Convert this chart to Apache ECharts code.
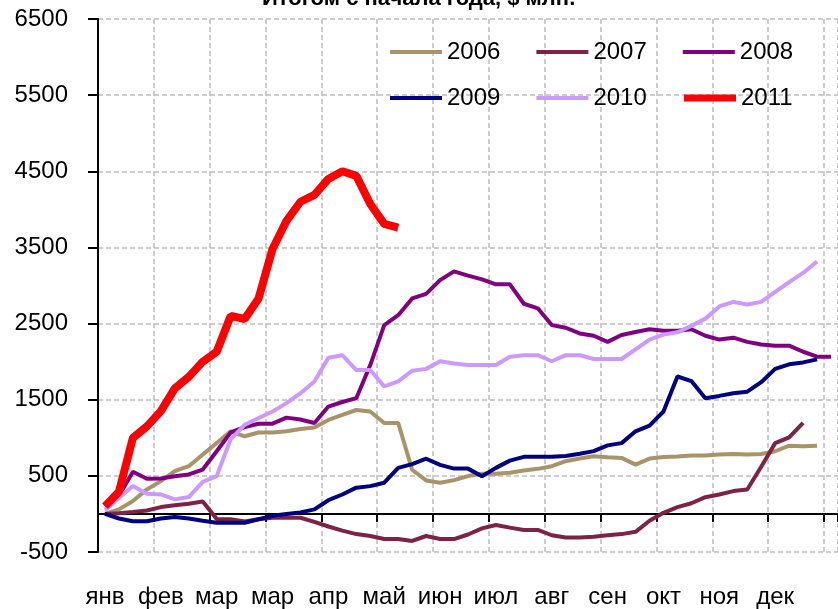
<!DOCTYPE html>
<html lang="ru">
<head>
    <meta charset="UTF-8">
    <title>Итогом с начала года</title>
    <script src="https://cdn.jsdelivr.net/npm/echarts@6/dist/echarts.min.js"></script>
    <style>
        html, body { margin: 0; padding: 0; background: #fff; }
        #chart { width: 838px; height: 609px; }
    </style>
</head>
<body>
<div id="chart"></div>
<script>
    // недели года (53 категории), подписи каждые 4 недели
    var weeks = [];
    for (var w = 1; w <= 53; w++) weeks.push(String(w));
    var months = ['янв', 'фев', 'мар', 'мар', 'апр', 'май', 'июн', 'июл', 'авг', 'сен', 'окт', 'ноя', 'дек'];
    var yTicks = [-500, 500, 1500, 2500, 3500, 4500, 5500, 6500];

    var y2006 = [0, 60, 170, 322, 431, 562, 627, 779, 932, 1085, 1020, 1070, 1070, 1085, 1115, 1135, 1235, 1300, 1365, 1345,
        1195, 1195, 580, 440, 409, 444, 497, 527, 527, 540, 570, 592, 627, 693, 727, 758, 745, 736, 648, 727,
        749, 753, 766, 766, 779, 788, 779, 788, 823, 897, 888, 897];
    var y2007 = [0, 10, 25, 45, 90, 113, 135, 163, -65, -70, -100, -70, -50, -50, -50, -105, -165, -220, -265, -290,
        -330, -330, -355, -290, -330, -330, -270, -190, -145, -180, -210, -210, -280, -310, -310, -300, -280, -265, -235, -90,
        15, 90, 140, 220, 255, 300, 320, 620, 930, 1005, 1195];
    var y2008 = [100, 240, 553, 461, 465, 496, 518, 583, 823, 1070, 1140, 1184, 1185, 1265, 1240, 1195, 1410, 1470, 1520, 1955,
        2480, 2610, 2830, 2890, 3070, 3185, 3130, 3080, 3015, 3015, 2760, 2700, 2480, 2445, 2370, 2340, 2260, 2350, 2390, 2425,
        2405, 2405, 2425, 2340, 2290, 2315, 2260, 2225, 2210, 2210, 2130, 2065, 2065];
    var y2009 = [0, -60, -95, -95, -60, -40, -60, -90, -115, -115, -115, -70, -25, 0, 20, 60, 180, 255, 345, 365,
        410, 605, 655, 725, 645, 595, 595, 495, 605, 700, 750, 750, 750, 760, 790, 825, 900, 930, 1085, 1160,
        1345, 1805, 1745, 1520, 1550, 1585, 1605, 1730, 1905, 1965, 1990, 2030];
    var y2010 = [50, 210, 366, 265, 256, 191, 222, 422, 497, 980, 1170, 1260, 1345, 1455, 1585, 1740, 2050, 2085, 1890, 1890,
        1675, 1740, 1880, 1905, 2005, 1975, 1955, 1955, 1955, 2065, 2085, 2085, 2005, 2085, 2085, 2035, 2035, 2035, 2160, 2290,
        2355, 2385, 2470, 2565, 2725, 2785, 2750, 2785, 2915, 3045, 3165, 3315];
    var y2011 = [100, 290, 1000, 1150, 1350, 1650, 1800, 2000, 2130, 2600, 2560, 2830, 3480, 3850, 4100, 4190, 4400, 4500, 4440, 4070,
        3810, 3760];

    var font = 'Liberation Sans, Arial, sans-serif';
    var gridLine = { show: true, lineStyle: { color: '#BDBDBD', width: 1.5, type: [5, 3] } };

    var chart = echarts.init(document.getElementById('chart'));

    function line(name, data, color, width) {
        return {
            name: name,
            type: 'line',
            data: data,
            symbol: 'none',
            lineStyle: { color: color, width: width },
            itemStyle: { color: color }
        };
    }

    function legendRow(names, left, top, h) {
        return {
            data: names,
            left: left,
            top: top,
            padding: 0,
            itemGap: 36,
            itemWidth: 52,
            itemHeight: h,
            icon: 'rect',
            textStyle: { fontSize: 24, color: '#000', fontFamily: font }
        };
    }

    var option = {
        animation: false,
        title: {
            text: 'Итогом с начала года, $ млн.',
            left: 262,
            top: -12,
            padding: 0,
            textStyle: { fontSize: 22, fontWeight: 'bold', color: '#000', fontFamily: font }
        },
        legend: [
            legendRow(['2006', '2007', '2008'], 390, 40, 4),
            legendRow(['2009', '2010'], 390, 86, 4),
            legendRow(['2011'], 684, 86, 7)
        ],
        grid: { left: 98, top: 19, width: 751, height: 536 },
        xAxis: [{
            type: 'category',
            data: weeks,
            boundaryGap: true,
            position: 'bottom',
            axisLine: { show: false, onZero: false },
            axisTick: { show: false },
            axisLabel: {
                interval: 3,
                margin: 33,
                fontSize: 24,
                color: '#000',
                fontFamily: font,
                formatter: function (v, i) { return months[i / 4] || ''; }
            },
            splitLine: { show: true, interval: 3, lineStyle: gridLine.lineStyle }
        }, {
            type: 'category',
            data: weeks,
            boundaryGap: true,
            position: 'bottom',
            axisLine: { show: true, onZero: true, lineStyle: { color: '#000', width: 2 } },
            axisTick: { show: true, interval: 3, length: 8, lineStyle: { color: '#000', width: 2 } },
            axisLabel: { show: false },
            splitLine: { show: false }
        }],
        yAxis: {
            type: 'value',
            min: yTicks[0],
            max: yTicks[yTicks.length - 1],
            interval: 1000,
            axisLine: { show: true, lineStyle: { color: '#000', width: 2 } },
            axisTick: { show: true, length: 10, lineStyle: { color: '#000', width: 2 } },
            axisLabel: {
                margin: 30, fontSize: 24, color: '#000', fontFamily: font,
                formatter: function (v) { return String(v); }
            },
            splitLine: gridLine
        },
        series: [
            line('2006', y2006, '#A89468', 4),
            line('2007', y2007, '#7E2246', 4),
            line('2008', y2008, '#800080', 4),
            line('2009', y2009, '#000080', 4),
            line('2010', y2010, '#CC99FF', 4),
            line('2011', y2011, '#FF0000', 8)
        ]
    };
    chart.setOption(option);
</script>
</body>
</html>
